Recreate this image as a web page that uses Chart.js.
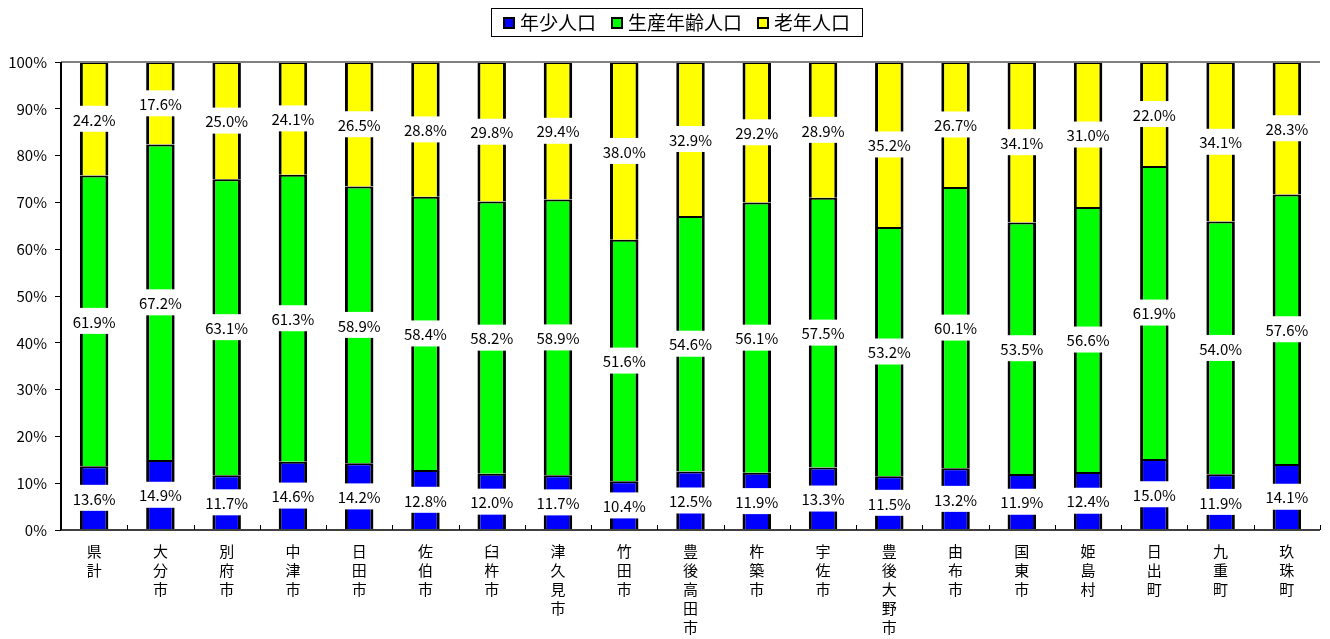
<!DOCTYPE html>
<html><head><meta charset="utf-8">
<script src="https://cdn.jsdelivr.net/npm/chart.js@4"></script>
<style>html,body{margin:0;padding:0;background:#fff}#wrap{width:1330px;height:639px;position:relative}</style>
</head><body><div id="wrap"><canvas id="c" width="1330" height="639"></canvas></div>
<script>
const categories = ['県計','大分市','別府市','中津市','日田市','佐伯市','臼杵市','津久見市','竹田市','豊後高田市','杵築市','宇佐市','豊後大野市','由布市','国東市','姫島村','日出町','九重町','玖珠町'];
const seriesNames = ['年少人口','生産年齢人口','老年人口'];
const young = [13.6,14.9,11.7,14.6,14.2,12.8,12.0,11.7,10.4,12.5,11.9,13.3,11.5,13.2,11.9,12.4,15.0,11.9,14.1];
const working = [61.9,67.2,63.1,61.3,58.9,58.4,58.2,58.9,51.6,54.6,56.1,57.5,53.2,60.1,53.5,56.6,61.9,54.0,57.6];
const elderly = [24.2,17.6,25.0,24.1,26.5,28.8,29.8,29.4,38.0,32.9,29.2,28.9,35.2,26.7,34.1,31.0,22.0,34.1,28.3];
const yTicks = [0,10,20,30,40,50,60,70,80,90,100];
const colors = ['#0000FF','#00FF00','#FFFF00'];

const raw = [young, working, elderly];
const totals = categories.map((_, i) => young[i] + working[i] + elderly[i]);
const norm = raw.map(arr => arr.map((v, i) => v / totals[i] * 100));
const FONT = '"Noto Sans CJK JP", "Noto Sans", sans-serif';

const labelPlugin = {
  id: 'labels',
  afterDatasetsDraw(chart) {
    const ctx = chart.ctx;
    ctx.save();
    ctx.font = '15px ' + FONT;
    ctx.textAlign = 'center';
    ctx.textBaseline = 'middle';
    chart.data.datasets.forEach((ds, di) => {
      const meta = chart.getDatasetMeta(di);
      meta.data.forEach((bar, i) => {
        const txt = raw[di][i].toFixed(1) + '%';
        const yc = (bar.y + bar.base) / 2;
        const w = ctx.measureText(txt).width + 6;
        const h = 26;
        ctx.fillStyle = '#fff';
        ctx.fillRect(bar.x - w / 2, yc - h / 2, w, h);
        ctx.fillStyle = '#000';
        ctx.fillText(txt, bar.x, yc + 1);
      });
    });
    ctx.restore();
  },
  afterDraw(chart) {
    const ctx = chart.ctx;
    const a = chart.chartArea;
    ctx.save();
    ctx.strokeStyle = '#808080';
    ctx.lineWidth = 2;
    ctx.beginPath(); ctx.moveTo(a.left, a.top); ctx.lineTo(a.right, a.top); ctx.stroke();
    ctx.strokeStyle = '#000';
    ctx.lineWidth = 2;
    ctx.beginPath(); ctx.moveTo(a.left, a.top); ctx.lineTo(a.left, a.bottom); ctx.stroke();
    ctx.strokeStyle = '#404040';
    ctx.beginPath(); ctx.moveTo(a.left, a.bottom); ctx.lineTo(a.right, a.bottom); ctx.stroke();
    ctx.lineWidth = 1;
    ctx.strokeStyle = '#000';
    const n = categories.length;
    const cw = (a.right - a.left) / n;
    for (let i = 0; i <= n; i++) {
      const x = Math.round(a.left + i * cw) + 0.5;
      ctx.beginPath(); ctx.moveTo(x, a.bottom - 5); ctx.lineTo(x, a.bottom); ctx.stroke();
    }
    // legend
    ctx.font = '19px ' + FONT;
    ctx.textBaseline = 'middle';
    ctx.textAlign = 'left';
    const sq = 10, gapSq = 7, gapItem = 15, padX = 12;
    let total = 0;
    const widths = seriesNames.map(s => ctx.measureText(s).width);
    widths.forEach((w, i) => { total += sq + gapSq + w + (i < widths.length - 1 ? gapItem : 0); });
    const boxW = total + padX * 2, boxH = 28;
    const cx = 677;
    const bx = Math.round(cx - boxW / 2), by = 8;
    ctx.fillStyle = '#fff';
    ctx.fillRect(bx, by, boxW, boxH);
    ctx.strokeStyle = '#000';
    ctx.lineWidth = 1;
    ctx.strokeRect(bx + 0.5, by + 0.5, boxW, boxH);
    let x = bx + padX;
    const yc = by + boxH / 2 + 1;
    seriesNames.forEach((s, i) => {
      ctx.fillStyle = '#000';
      ctx.fillRect(x, yc - sq / 2 - 1, sq + 2, sq + 2);
      ctx.fillStyle = colors[i];
      ctx.fillRect(x + 2, yc - sq / 2 + 1, sq - 2, sq - 2);
      x += sq + gapSq;
      ctx.fillStyle = '#000';
      ctx.fillText(s, x, yc);
      x += widths[i] + gapItem;
    });
    ctx.restore();
  }
};

const datasets = seriesNames.map((name, i) => ({
  label: name,
  data: norm[i],
  backgroundColor: colors[i],
  borderColor: '#000',
  borderWidth: {left: 3, right: 3, top: 2, bottom: 0},
  borderSkipped: false,
  categoryPercentage: 1,
  barPercentage: 0.43
}));

new Chart(document.getElementById('c'), {
  type: 'bar',
  data: { labels: categories.map(c => c.split('')), datasets },
  options: {
    responsive: false,
    animation: false,
    devicePixelRatio: 1,
    layout: { padding: { top: 62, right: 10, left: 0, bottom: 0 } },
    plugins: { legend: { display: false }, tooltip: { enabled: false } },
    scales: {
      x: {
        stacked: true,
        grid: { display: false, drawTicks: false },
        border: { display: false },
        ticks: { autoSkip: false, maxRotation: 0, minRotation: 0, padding: 12, color: '#000', font: { family: FONT, size: 15, lineHeight: 1.27 } },
        afterFit(s) { s.height = 109; }
      },
      y: {
        stacked: true,
        min: 0, max: 100,
        afterBuildTicks(s) { s.ticks = yTicks.map(v => ({ value: v })); },
        grid: { drawOnChartArea: false, drawTicks: true, tickLength: 6, color: '#000', tickColor: '#000' },
        border: { display: false },
        ticks: { padding: 8, color: '#000', font: { family: FONT, size: 15 }, callback: v => v + '%' },
        afterFit(s) { s.width = 61; }
      }
    }
  },
  plugins: [labelPlugin]
});
</script></body></html>
